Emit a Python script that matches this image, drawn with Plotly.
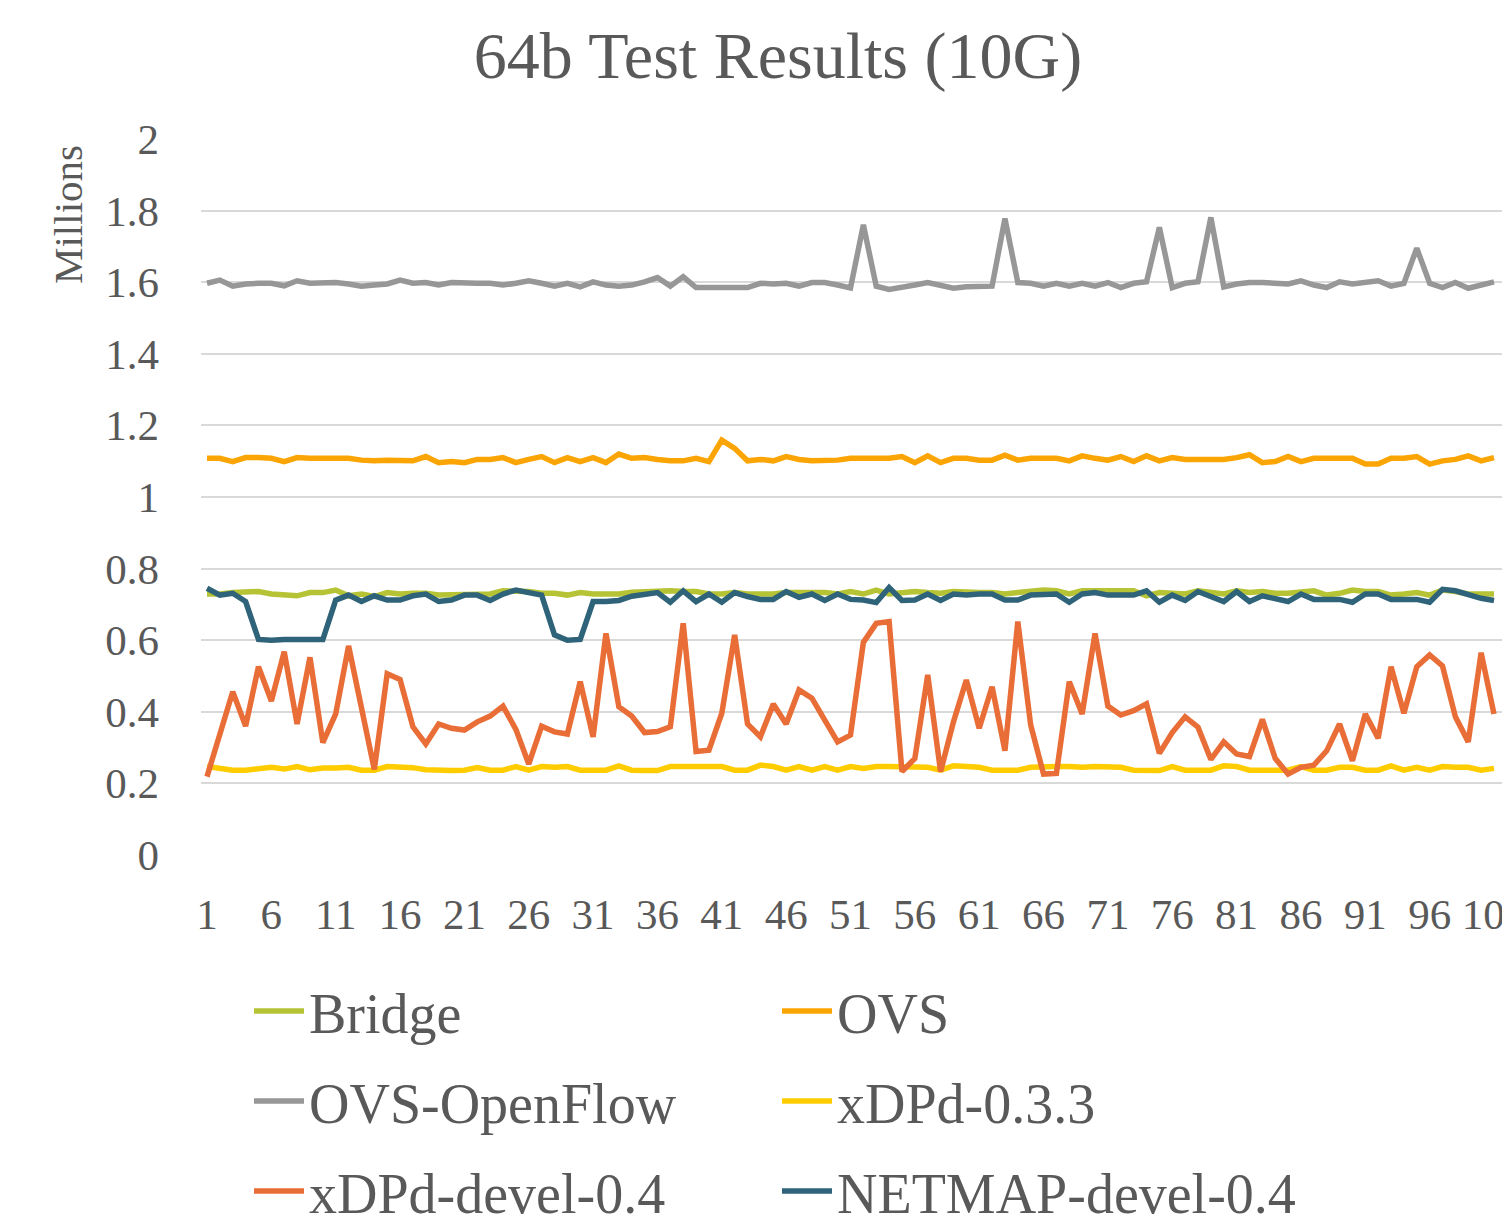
import plotly.graph_objects as go

categories = list(range(1, 102))
tick_labels = [str(c) for c in categories[::5]]

bridge = [0.729,0.729,0.733,0.736,0.736,0.729,0.726,0.724,0.733,0.733,0.740,0.724,0.729,0.722,0.733,0.729,0.731,
          0.731,0.726,0.726,0.729,0.729,0.729,0.738,0.738,0.736,0.731,0.731,0.726,0.733,0.729,0.729,0.729,0.734,
          0.736,0.738,0.738,0.736,0.736,0.729,0.729,0.733,0.729,0.729,0.729,0.733,0.733,0.736,0.733,0.729,0.736,
          0.729,0.740,0.729,0.733,0.736,0.733,0.731,0.736,0.733,0.733,0.733,0.729,0.733,0.738,0.740,0.738,
          0.729,0.738,0.738,0.740,0.740,0.738,0.724,0.733,0.731,0.729,0.738,0.733,0.729,0.738,0.733,0.736,0.731,
          0.731,0.733,0.738,0.726,0.731,0.740,0.736,0.736,0.726,0.729,0.733,0.726,0.740,0.736,0.729,0.729,0.729]

ovs = [1.108,1.108,1.099,1.110,1.110,1.108,1.099,1.110,1.108,1.108,1.110,1.108,1.103,1.101,1.103,1.103,1.101,
       1.113,1.096,1.099,1.096,1.105,1.105,1.110,1.096,1.105,1.113,1.096,1.110,1.099,1.110,1.096,1.120,1.108,
       1.110,1.105,1.101,1.101,1.108,1.099,1.159,1.136,1.101,1.105,1.101,1.113,1.105,1.101,1.101,1.103,1.108,
       1.108,1.108,1.108,1.113,1.096,1.115,1.096,1.108,1.108,1.103,1.103,1.117,1.103,1.108,1.108,1.108,
       1.101,1.115,1.108,1.103,1.113,1.099,1.115,1.101,1.110,1.105,1.105,1.105,1.105,1.110,1.118,1.096,1.099,
       1.113,1.099,1.108,1.108,1.108,1.108,1.092,1.092,1.108,1.108,1.113,1.092,1.101,1.105,1.115,1.101,1.110]

ovs_openflow = [1.597,1.606,1.589,1.595,1.597,1.597,1.590,1.604,1.597,1.597,1.599,1.595,1.589,1.592,1.595,1.606,1.597,
                1.599,1.592,1.599,1.597,1.597,1.597,1.592,1.597,1.604,1.597,1.589,1.597,1.587,1.601,1.592,1.589,1.592,
                1.601,1.613,1.589,1.615,1.585,1.585,1.585,1.583,1.585,1.597,1.595,1.597,1.589,1.599,1.599,1.592,1.584,
                1.760,1.589,1.580,1.585,1.592,1.599,1.592,1.583,1.587,1.589,1.589,1.778,1.599,1.597,1.589,1.597,
                1.589,1.597,1.589,1.599,1.585,1.597,1.601,1.753,1.585,1.597,1.601,1.781,1.587,1.595,1.599,1.599,1.597,
                1.595,1.604,1.592,1.585,1.601,1.595,1.599,1.604,1.589,1.597,1.695,1.597,1.585,1.599,1.583,1.592,1.601]

xdpd_033 = [0.247,0.242,0.237,0.237,0.242,0.245,0.240,0.247,0.238,0.243,0.243,0.245,0.237,0.237,0.247,0.247,0.244,
            0.238,0.236,0.236,0.237,0.244,0.237,0.237,0.247,0.237,0.247,0.245,0.247,0.237,0.237,0.237,0.249,0.237,
            0.236,0.236,0.247,0.247,0.247,0.247,0.247,0.237,0.237,0.251,0.247,0.237,0.247,0.237,0.247,0.237,0.247,
            0.242,0.247,0.247,0.247,0.247,0.245,0.237,0.249,0.247,0.245,0.237,0.237,0.237,0.245,0.247,0.247,
            0.247,0.245,0.247,0.247,0.245,0.237,0.237,0.236,0.247,0.237,0.237,0.237,0.249,0.247,0.237,0.237,0.237,
            0.237,0.247,0.237,0.237,0.245,0.245,0.237,0.237,0.249,0.237,0.245,0.237,0.247,0.245,0.245,0.237,0.242]

xdpd_devel = [0.219,0.340,0.456,0.360,0.526,0.430,0.568,0.366,0.552,0.314,0.394,0.584,0.420,0.239,0.506,0.490,0.358,
              0.310,0.366,0.354,0.349,0.372,0.388,0.416,0.351,0.254,0.360,0.344,0.338,0.484,0.330,0.619,0.414,0.388,
              0.342,0.345,0.358,0.647,0.289,0.293,0.396,0.615,0.366,0.330,0.422,0.366,0.461,0.438,0.377,0.316,0.335,
              0.594,0.647,0.652,0.233,0.270,0.503,0.233,0.372,0.489,0.354,0.470,0.291,0.652,0.363,0.226,0.228,
              0.484,0.394,0.619,0.416,0.391,0.403,0.422,0.284,0.342,0.386,0.357,0.267,0.316,0.282,0.275,0.379,0.270,
              0.226,0.245,0.251,0.291,0.366,0.263,0.394,0.326,0.526,0.396,0.526,0.559,0.528,0.386,0.316,0.565,0.394]

netmap_devel = [0.745,0.726,0.731,0.708,0.602,0.600,0.602,0.602,0.602,0.602,0.712,0.726,0.708,0.724,0.712,0.712,0.724,
                0.729,0.708,0.712,0.726,0.726,0.711,0.729,0.740,0.733,0.726,0.615,0.600,0.602,0.708,0.708,0.711,0.723,
                0.729,0.733,0.706,0.738,0.708,0.729,0.706,0.733,0.722,0.714,0.714,0.736,0.720,0.729,0.711,0.729,0.714,
                0.712,0.705,0.747,0.711,0.712,0.729,0.711,0.729,0.726,0.729,0.729,0.712,0.712,0.726,0.726,0.729,
                0.706,0.729,0.733,0.726,0.726,0.726,0.738,0.706,0.726,0.711,0.736,0.724,0.708,0.736,0.708,0.724,0.717,
                0.708,0.729,0.714,0.714,0.714,0.706,0.729,0.729,0.714,0.714,0.714,0.706,0.742,0.738,0.726,0.717,0.711]

y_ticks = [0, 0.2, 0.4, 0.6, 0.8, 1.0, 1.2, 1.4, 1.6, 1.8, 2.0]
y_tick_labels = ["0", "0.2", "0.4", "0.6", "0.8", "1", "1.2", "1.4", "1.6", "1.8", "2"]

series = [
    ("Bridge", bridge, "#B5C334", "legend"),
    ("OVS", ovs, "#FBA504", "legend"),
    ("OVS-OpenFlow", ovs_openflow, "#979797", "legend2"),
    ("xDPd-0.3.3", xdpd_033, "#FFCC00", "legend2"),
    ("xDPd-devel-0.4", xdpd_devel, "#E96D36", "legend3"),
    ("NETMAP-devel-0.4", netmap_devel, "#2F6379", "legend3"),
]

FONT = "Liberation Serif, Times New Roman, serif"
TXT = "#595959"

fig = go.Figure()
for name, vals, color, lg in series:
    fig.add_trace(go.Scatter(x=categories, y=vals, mode="lines", name=name,
                             line=dict(color=color, width=5.5), legend=lg))

# page has an 8px body margin: work in figure pixels (= screen - 8)
OFF = 8
W, H = 1510 - OFF, 1225 - OFF
L, T = 201 - OFF, 139 - OFF
R = 0
B = H - (855 - OFF)
pw = W - L - R
ph = H - T - B
unit = 12.87
x0 = 1 - (207 - 201) / unit
x1 = 101 + (1510 - 1494) / unit

fig.update_layout(
    width=W, height=H,
    margin=dict(l=L, r=R, t=T, b=B, autoexpand=False),
    paper_bgcolor="white", plot_bgcolor="white",
    font=dict(family=FONT, color=TXT),
    title=dict(text="64b Test Results (10G)", x=(778 - OFF) / W, xanchor="center",
               y=1 - (55 - OFF) / H, yanchor="middle", font=dict(size=66, color=TXT, family=FONT)),
    xaxis=dict(range=[x0, x1], tickvals=categories[::5], ticktext=tick_labels,
               showgrid=False, zeroline=False, showline=False, ticks="", automargin=False,
               ticklabeloverflow="allow",
               tickfont=dict(size=43, color=TXT, family=FONT), ticklabelstandoff=30),
    yaxis=dict(range=[0, 2], tickvals=y_ticks, ticktext=y_tick_labels,
               showgrid=True, gridcolor="#D9D9D9", gridwidth=2, zeroline=False, showline=False,
               ticks="", automargin=False,
               tickfont=dict(size=43, color=TXT, family=FONT), ticklabelstandoff=41),
    annotations=[dict(text="Millions", xref="paper", yref="paper",
                      x=(68 - OFF - L) / pw, y=1 - (215 - OFF - T) / ph,
                      xanchor="center", yanchor="middle", textangle=-90, showarrow=False,
                      font=dict(size=41, color=TXT, family=FONT))],
)

legend_common = dict(orientation="h", xanchor="left", yanchor="middle", entrywidth=463,
                     entrywidthmode="pixels", bgcolor="rgba(0,0,0,0)", itemwidth=50,
                     font=dict(size=56, color=TXT, family=FONT), tracegroupgap=0)
plot_bottom = 855 - OFF
lx = (241 - L) / pw
fig.update_layout(
    legend=dict(x=lx, y=-(1003 - plot_bottom) / ph, **legend_common),
    legend2=dict(x=lx, y=-(1093 - plot_bottom) / ph, **legend_common),
    legend3=dict(x=lx, y=-(1183 - plot_bottom) / ph, **legend_common),
)

fig.write_html("out.html")
